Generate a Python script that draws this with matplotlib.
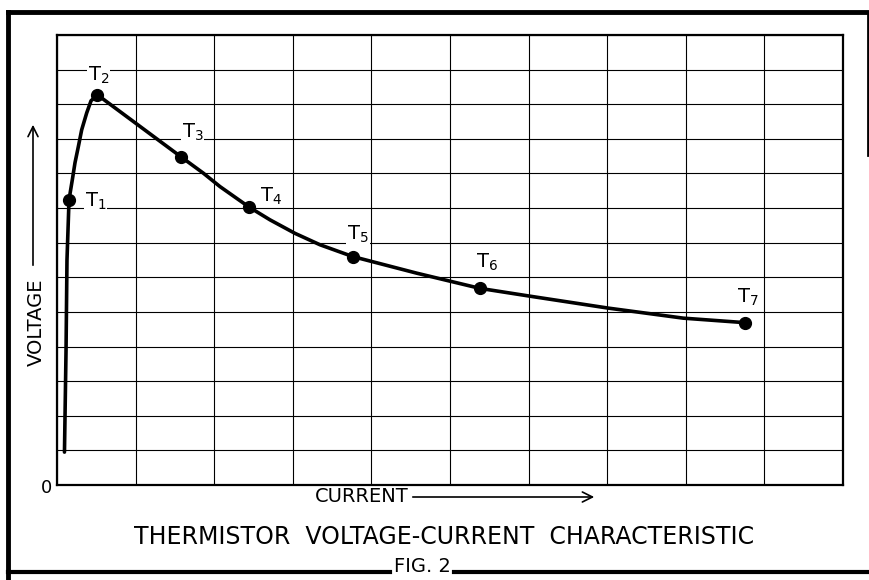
import matplotlib.pyplot as plt

plt.rcParams['font.family'] = ['Liberation Sans Narrow', 'DejaVu Sans']
plt.rcParams['mathtext.fontset'] = 'custom'
plt.rcParams['mathtext.rm'] = 'Liberation Sans Narrow'
plt.rcParams['mathtext.it'] = 'Liberation Sans Narrow'

# traced curve, in grid units (10 columns x 13 rows)
curve_current = [0.095, 0.115, 0.127, 0.140, 0.153, 0.195, 0.229, 0.271,
                 0.314, 0.378, 0.433, 0.515, 1.578, 1.861, 2.074, 2.443,
                 2.710, 3.028, 3.346, 3.762, 4.576, 5.382, 6.060, 7.014,
                 7.968, 8.753]
curve_voltage = [0.95, 3.90, 6.50, 7.37, 8.24, 8.82, 9.31, 9.77,
                 10.26, 10.75, 11.10, 11.27, 9.48, 9.01, 8.62, 8.03,
                 7.66, 7.27, 6.94, 6.60, 6.12, 5.68, 5.44, 5.11,
                 4.82, 4.69]

# marked points T1..T7
point_names = ["T$_1$", "T$_2$", "T$_3$", "T$_4$", "T$_5$", "T$_6$", "T$_7$"]
point_current = [0.153, 0.515, 1.578, 2.443, 3.762, 5.382, 8.753]
point_voltage = [8.24, 11.27, 9.48, 8.03, 6.60, 5.68, 4.69]

label_offsets = [(11.5, -1.4), (-6.8, 14.4), (0.4, 17.3), (7.9, 7.9),
                 (-4.0, 15.8), (-3.2, 18.7), (-5.8, 18.0)]

fig = plt.figure(figsize=(8.7, 5.8), dpi=100)
ax = fig.add_axes([57 / 870, 95 / 580, 786 / 870, 450 / 580])
ax.set_xlim(0, 10)
ax.set_ylim(0, 13)
ax.set_xticks(range(11))
ax.set_yticks(range(14))
ax.grid(True, color='black', linewidth=0.8)
ax.tick_params(length=0, labelbottom=False, labelleft=False)
for s in ax.spines.values():
    s.set_linewidth(1.6)

ax.plot(curve_current, curve_voltage, color='black', linewidth=2.6,
        solid_capstyle='round', solid_joinstyle='round')
ax.plot(point_current, point_voltage, 'o', color='black', markersize=8.5)

for name, x, y, off in zip(point_names, point_current, point_voltage, label_offsets):
    ax.annotate(name, (x, y), xytext=off, textcoords='offset points',
                ha='left', va='center', fontsize=14,
                bbox=dict(fc='white', ec='none', pad=0.5))

ax.annotate('0', (0, 0), xytext=(-7.5, -2), textcoords='offset points',
            ha='center', va='center', fontsize=13)

# page decorations in pixel coordinates
deco = fig.add_axes([0, 0, 1, 1], zorder=-1)
deco.set_xlim(0, 870)
deco.set_ylim(580, 0)
deco.axis('off')
deco.plot([8, 868], [12, 12], color='black', linewidth=3.5)
deco.plot([8, 8], [12, 580], color='black', linewidth=3.5)
deco.plot([868, 868], [12, 155], color='black', linewidth=2)
deco.plot([8, 390], [572, 572], color='black', linewidth=3)
deco.plot([454, 870], [572, 572], color='black', linewidth=3)

deco.text(36, 322, 'VOLTAGE', rotation=90, ha='center', va='center', fontsize=14)
deco.annotate('', xy=(33, 122), xytext=(33, 268),
              arrowprops=dict(arrowstyle='->', color='black', lw=1.2,
                              mutation_scale=18))
deco.text(315, 497, 'CURRENT', ha='left', va='center', fontsize=14)
deco.annotate('', xy=(597, 497), xytext=(410, 497),
              arrowprops=dict(arrowstyle='->', color='black', lw=1.2,
                              mutation_scale=18))
deco.text(444, 537, 'THERMISTOR  VOLTAGE-CURRENT  CHARACTERISTIC',
          ha='center', va='center', fontsize=17)
deco.text(422, 567, 'FIG. 2', ha='center', va='center', fontsize=14)

fig.savefig('out.png', dpi=100)
